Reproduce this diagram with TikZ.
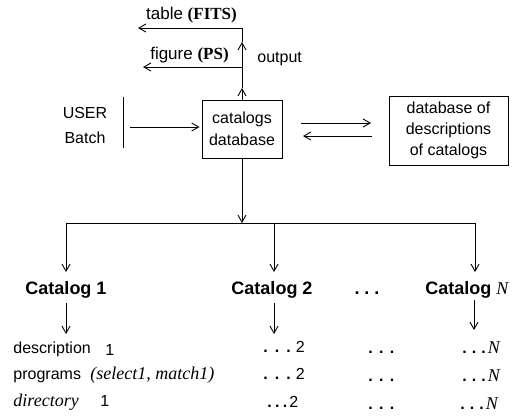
\documentclass[tikz,border=0pt]{standalone}
\usepackage{fontspec}
\setmainfont{Liberation Sans}
\newfontfamily\tms{Liberation Serif}
\usetikzlibrary{arrows.meta}
\newcommand\mydots[1]{{\bfseries.\hspace{#1}.\hspace{#1}.}}
\begin{document}
\begin{tikzpicture}[x=1pt,y=-1pt,
  line width=0.9pt,
  >={Straight Barb[length=7pt,width=8pt]},
  lbl/.style={inner sep=0pt, font=\fontsize{16}{19}\selectfont},
  lbltop/.style={inner sep=0pt, font=\fontsize{17}{20}\selectfont},
  serif/.style={inner sep=0pt, font=\fontsize{18}{21}\selectfont\tms\itshape},
  cattitle/.style={inner sep=0pt, font=\fontsize{18}{21}\selectfont\bfseries},
  boxnode/.style={draw, inner sep=0pt, align=center},
]
\useasboundingbox (0,0) rectangle (512,416);

% boxes
\node[boxnode, minimum width=80pt, minimum height=58pt, font=\fontsize{16}{22}\selectfont] (cat) at (242,129) {catalogs\\database};
\node[boxnode, minimum width=119pt, minimum height=69pt, font=\fontsize{16}{21}\selectfont] (db) at (448.5,130.5) {database of\\descriptions\\of catalogs};

% output
\coordinate (m1) at (242,88);
\coordinate (m2) at (242,42);
\coordinate (otop) at (242,28);
\coordinate (tabL) at (138,28);
\coordinate (figR) at (242,67);
\coordinate (figL) at (143,67);
\draw[->] (cat.north) -- (m1);
\draw[->] (m1) -- (m2);
\draw (m2) -- (otop);
\draw[->] (otop) -- (tabL);
\draw[->] (figR) -- (figL);
\node[lbltop, anchor=base] (tab) at (191.5,19) {table {\tms\bfseries (FITS)}};
\node[lbltop, anchor=base] (fig) at (189.5,59) {figure {\tms\bfseries (PS)}};
\node[lbl, anchor=base west] (out) at (257,62) {output};

% user input
\node[lbl, anchor=base] (user) at (85,118) {USER};
\node[lbl, anchor=base] (batch) at (85,143) {Batch};
\coordinate (barT) at (123,97);
\coordinate (barB) at (123,148);
\draw (barT) -- (barB);
\coordinate (uin) at (130,127);
\draw[->, shorten >=2pt] (uin) -- (uin -| cat.west);

% double arrows
\coordinate (a1) at (301,123);
\coordinate (a2) at (371,123);
\coordinate (b1) at (372,136);
\coordinate (b2) at (303,136);
\draw[->] (a1) -- (a2);
\draw[->] (b1) -- (b2);

% distribution
\coordinate (hub) at (242,223);
\coordinate (hl) at (66,223);
\coordinate (hm) at (274,223);
\coordinate (hr) at (475,223);
\draw[->] (cat.south) -- (hub);
\draw (hl) -- (hr);
\coordinate (t1) at (66,272);
\coordinate (t2) at (274,272);
\coordinate (t3) at (475,272);
\draw[->] (hl) -- (t1);
\draw[->] (hm) -- (t2);
\draw[->] (hr) -- (t3);

% catalogs
\node[cattitle, anchor=base] (c1) at (66,294) {Catalog 1};
\node[cattitle, anchor=base] (c2) at (272,294) {Catalog 2};
\node[cattitle, anchor=base] (cd) at (367,294) {\mydots{5pt}};
\node[cattitle, anchor=base west] (cN) at (425,294) {Catalog {\tms\mdseries\itshape N}};

\coordinate (s1) at (66,303);
\coordinate (e1) at (66,334);
\coordinate (s2) at (274,303);
\coordinate (e2) at (274,334);
\coordinate (s3) at (474,300);
\coordinate (e3) at (474,330);
\draw[->] (s1) -- (e1);
\draw[->] (s2) -- (e2);
\draw[->] (s3) -- (e3);

% rows, left
\node[lbl, anchor=base west] (desc) at (13,353) {description};
\node[lbl, anchor=base west] (desc1) at (105,355) {1};
\node[lbl, anchor=base west] (prog) at (13,379) {programs};
\node[serif, anchor=base west] (progs) at (90,379) {(select1, match1)};
\node[serif, anchor=base west] (dir) at (13,406) {directory};
\node[lbl, anchor=base west] (dir1) at (100,406) {1};

% rows, right
\node[lbl, anchor=base west] (r1a) at (263,352) {\mydots{7pt}\hspace{5pt}2};
\node[lbl, anchor=base west] (r1b) at (368,353) {\mydots{6.3pt}};
\node[lbl, anchor=base west] (r1c) at (462,353) {\mydots{5pt}\hspace{2pt}{\tms\itshape\mdseries\fontsize{18}{21}\selectfont N}};
\node[lbl, anchor=base west] (r2a) at (263,379) {\mydots{7pt}\hspace{5pt}2};
\node[lbl, anchor=base west] (r2b) at (368,381) {\mydots{6.3pt}};
\node[lbl, anchor=base west] (r2c) at (462,381) {\mydots{5pt}\hspace{2pt}{\tms\itshape\mdseries\fontsize{18}{21}\selectfont N}};
\node[lbl, anchor=base west] (r3a) at (267,407) {\mydots{3.3pt}\hspace{2pt}2};
\node[lbl, anchor=base west] (r3b) at (368,409) {\mydots{6.3pt}};
\node[lbl, anchor=base west] (r3c) at (460,409) {\mydots{5pt}\hspace{2pt}{\tms\itshape\mdseries\fontsize{18}{21}\selectfont N}};
\end{tikzpicture}
\end{document}
